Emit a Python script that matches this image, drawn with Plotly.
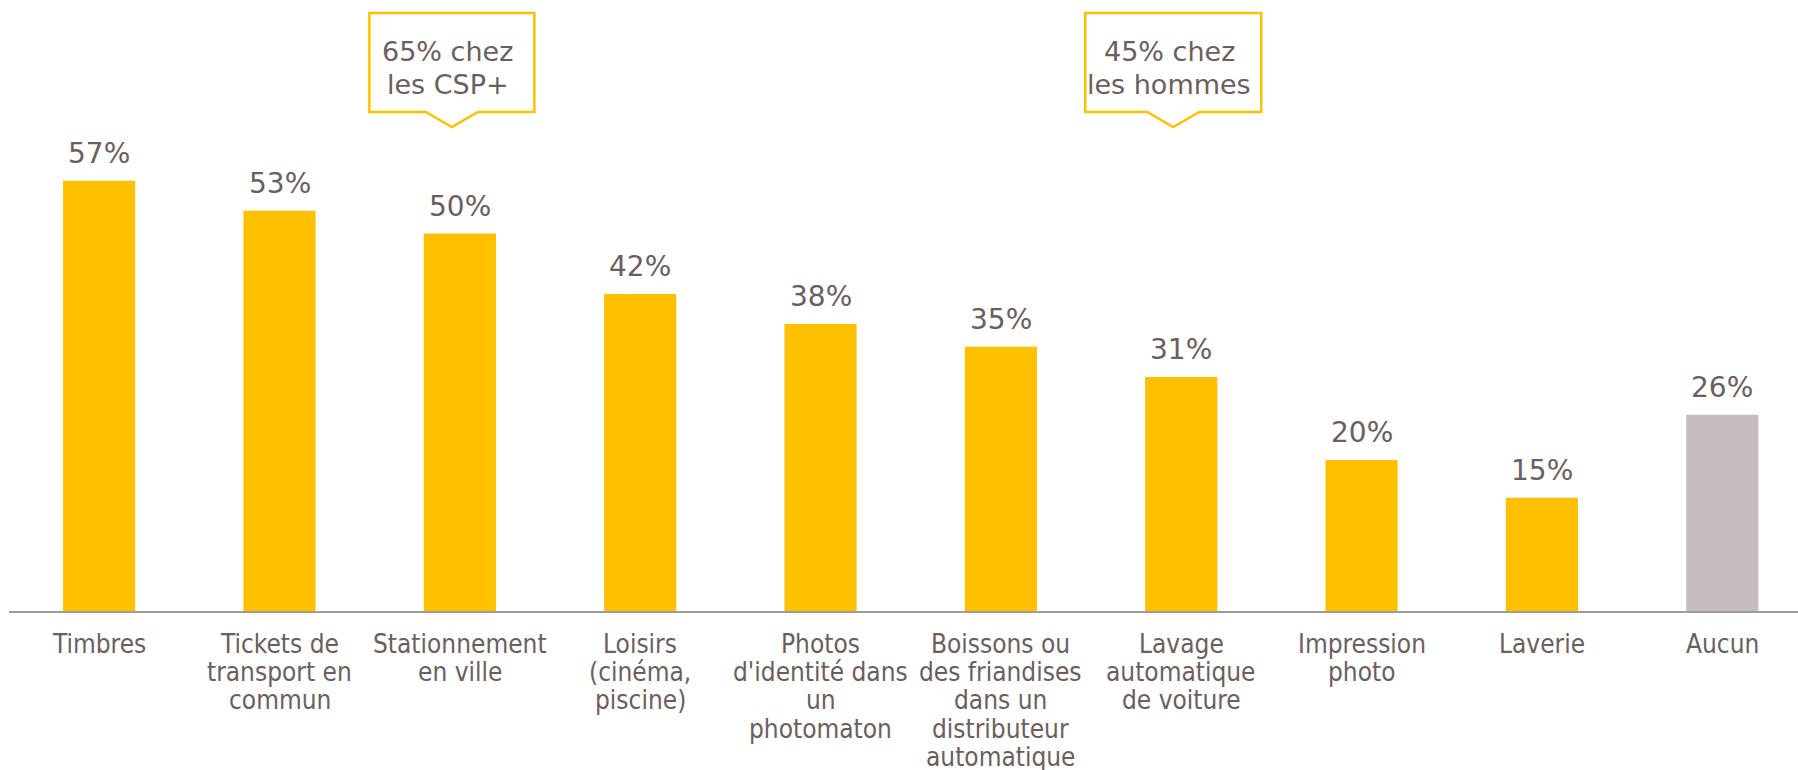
import plotly.graph_objects as go

# --- data -------------------------------------------------------------
categories = [
    "Timbres",
    "Tickets de<br>transport en<br>commun",
    "Stationnement<br>en ville",
    "Loisirs<br>(cinéma,<br>piscine)",
    "Photos<br>d'identité dans<br>un<br>photomaton",
    "Boissons ou<br>des friandises<br>dans un<br>distributeur<br>automatique",
    "Lavage<br>automatique<br>de voiture",
    "Impression<br>photo",
    "Laverie",
    "Aucun",
]
values = [57, 53, 50, 42, 38, 35, 31, 20, 15, 26]
value_labels = [f"{v}%" for v in values]

# callouts: (category index, text lines)
callout_index = [2, 6]
callout_lines = [["65% chez", "les CSP+"], ["45% chez", "les hommes"]]
callout_width = [165, 176]

# --- styling ----------------------------------------------------------
W, H = 1798, 770
M_L, M_R, M_T, M_B = 9, 0, 7, 159
PLOT_H = H - M_T - M_B
Y_MAX = 80
GOLD = "#FFC000"
GREY_BAR = "#C5BDBD"
TEXT = "#6B5E5E"
AXIS = "#A09B9B"
FONT = "DejaVu Sans, Verdana, sans-serif"
FONT_COND = "DejaVu Sans Condensed, DejaVu Sans, sans-serif"

bar_colors = [GOLD] * (len(values) - 1) + [GREY_BAR]


def paper_y(px_from_top):
    """Convert a page pixel row into paper y."""
    return (H - M_B - px_from_top) / PLOT_H


def line_annotation(x, baseline_px, text, size, family, xshift=0):
    # place one text line so that its baseline falls on baseline_px
    mid = baseline_px - 0.36 * size
    return dict(
        x=x, xref="x", y=paper_y(mid), yref="paper",
        text=text, showarrow=False, xanchor="center", yanchor="middle",
        xshift=xshift, font=dict(family=family, size=size, color=TEXT),
    )


fig = go.Figure(
    go.Bar(
        x=list(range(len(values))),
        y=values,
        marker=dict(color=bar_colors, line=dict(width=0)),
        width=0.4,
        hoverinfo="skip",
    )
)

annotations = []

# value labels above each bar
for i, (v, lab) in enumerate(zip(values, value_labels)):
    annotations.append(
        dict(
            x=i, y=v, xref="x", yref="y", text=lab, showarrow=False,
            xanchor="center", yanchor="bottom", yshift=9,
            font=dict(family=FONT, size=28, color=TEXT),
        )
    )

# category labels under the axis, one annotation per line
AXIS_PX = H - M_B
for i, cat in enumerate(categories):
    for k, line in enumerate(cat.split("<br>")):
        annotations.append(
            line_annotation(i, AXIS_PX + 42 + k * 28.3, line, 26, FONT_COND)
        )

# callout boxes with a downward pointer
shapes = []
for idx, lines, w in zip(callout_index, callout_lines, callout_width):
    half = w / 2
    off = -8  # tip sits slightly left of the bar centre
    notch = 26
    path = (
        f"M {off - half},-6 L {off + half},-6 L {off + half},-105 "
        f"L {off + notch},-105 L {off},-120 L {off - notch},-105 "
        f"L {off - half},-105 Z"
    )
    shapes.append(
        dict(
            type="path", path=path,
            xref="x", xsizemode="pixel", xanchor=idx,
            yref="paper", ysizemode="pixel", yanchor=1,
            line=dict(color=GOLD, width=2.5), fillcolor="white",
        )
    )
    for k, line in enumerate(lines):
        annotations.append(
            line_annotation(idx, 61 + k * 33, line, 27, FONT, xshift=off - 4)
        )

fig.update_layout(
    width=W, height=H,
    margin=dict(l=M_L, r=M_R, t=M_T, b=M_B, pad=0),
    paper_bgcolor="white", plot_bgcolor="white",
    showlegend=False,
    xaxis=dict(
        range=[-0.5, 9.42], showticklabels=False, ticks="",
        showgrid=False, zeroline=False,
        showline=True, linecolor=AXIS, linewidth=2,
        fixedrange=True,
    ),
    yaxis=dict(
        range=[0, Y_MAX], visible=False, showgrid=False, zeroline=False,
        fixedrange=True,
    ),
    annotations=annotations,
    shapes=shapes,
)

fig.write_html("out.html", config={"displayModeBar": False})
